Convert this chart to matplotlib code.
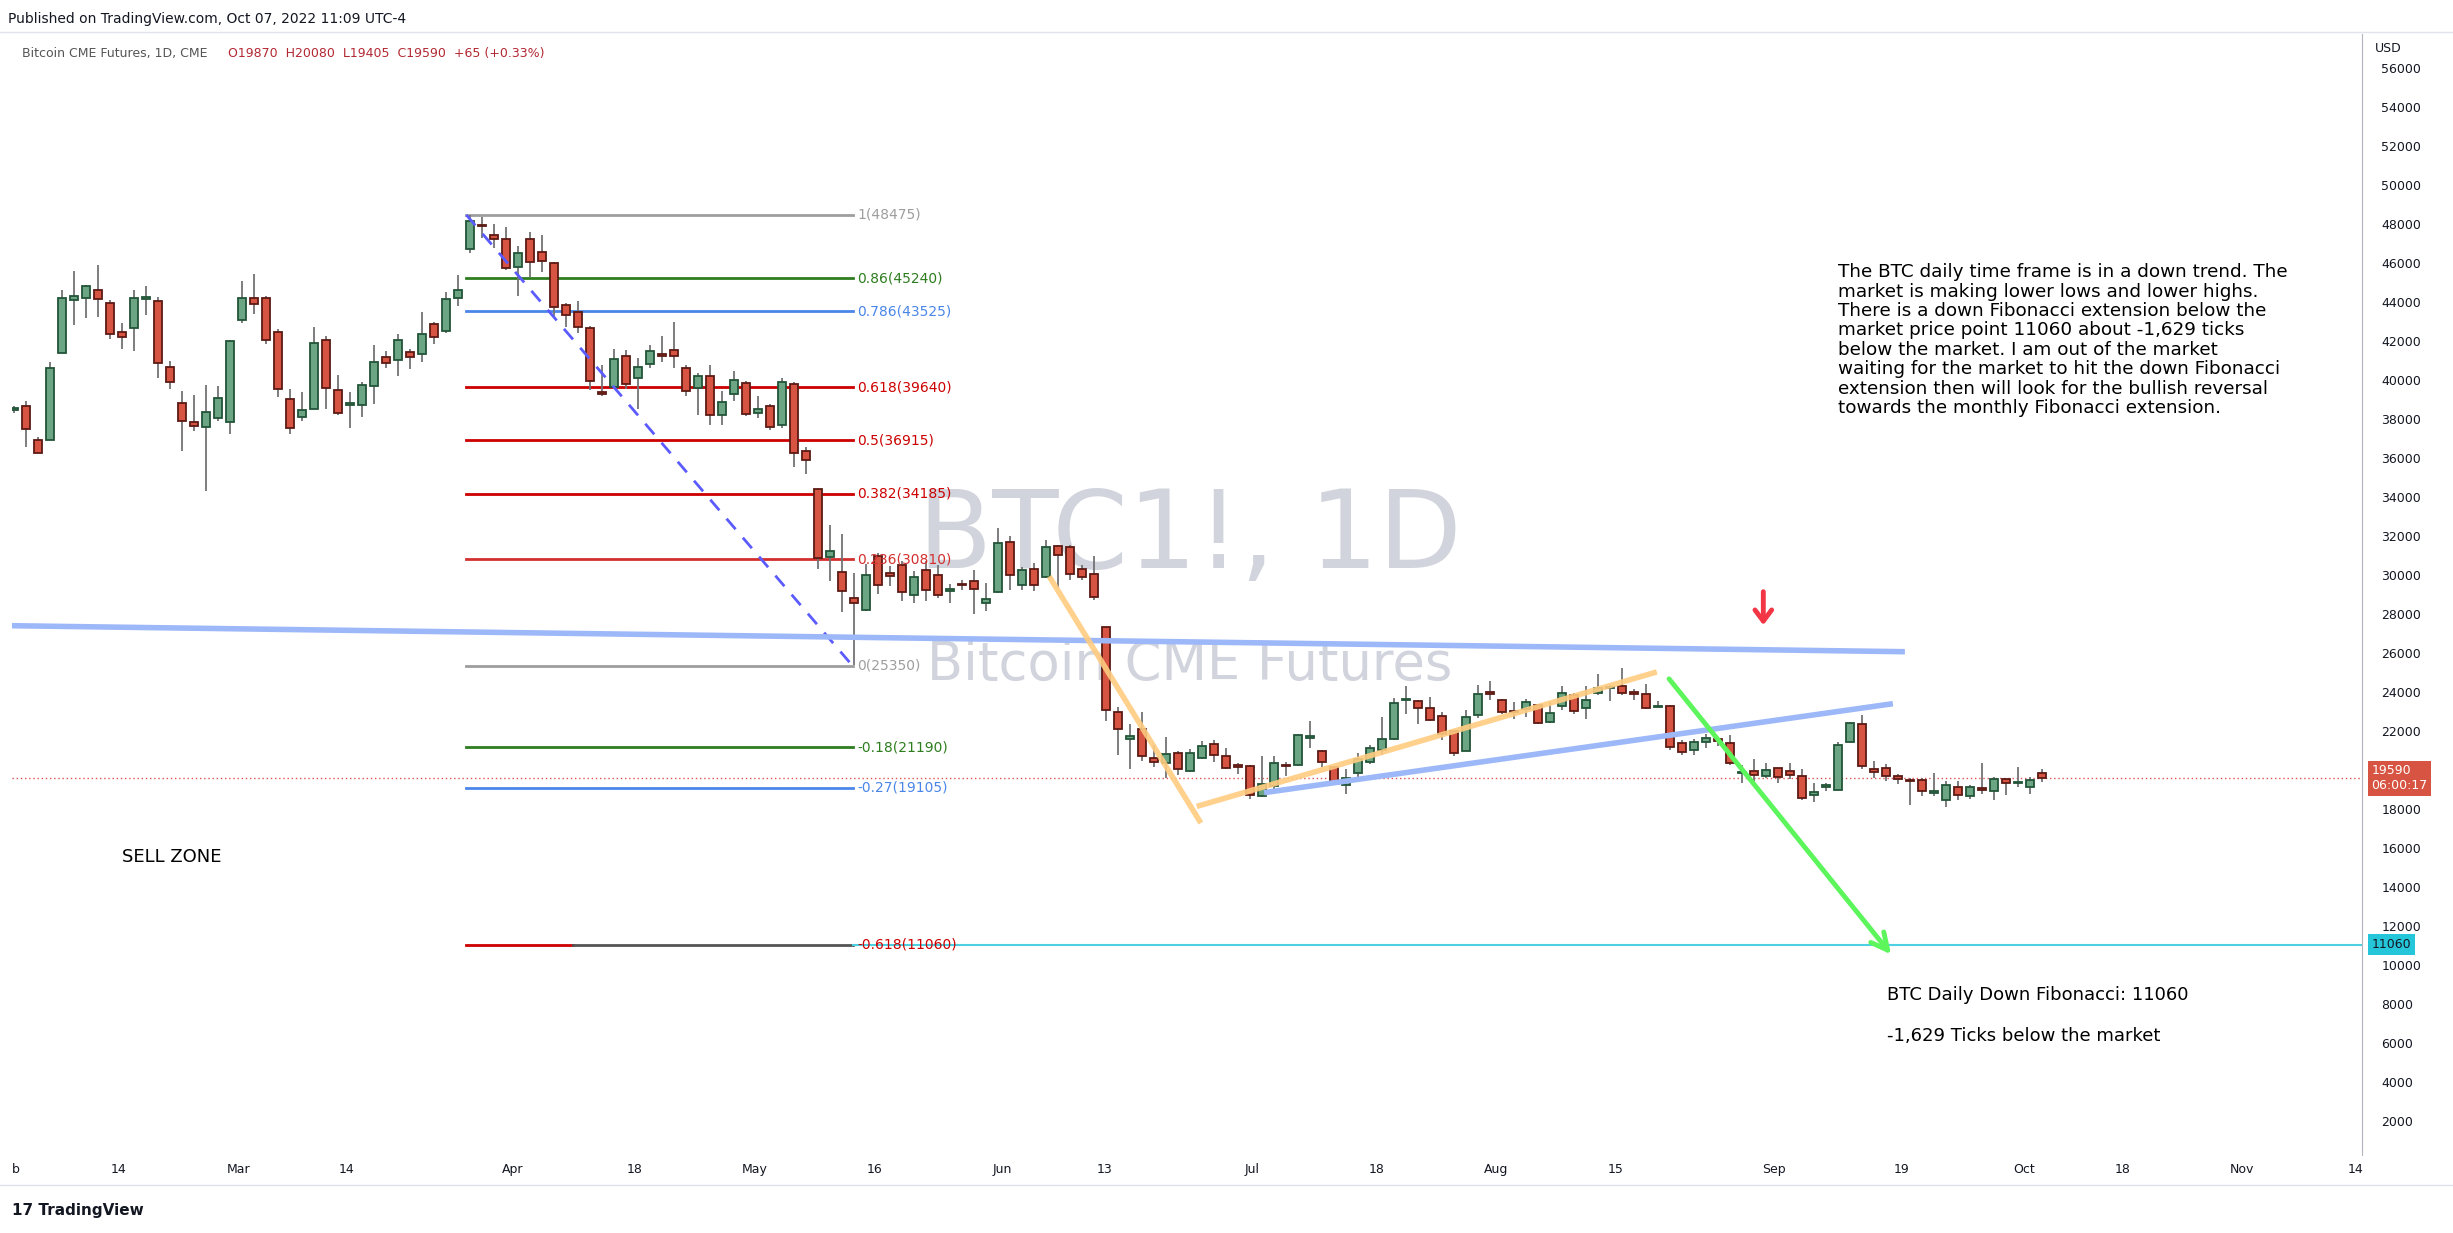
import matplotlib
matplotlib.use("Agg")
import matplotlib.pyplot as plt
import matplotlib.transforms as mtransforms
import numpy as np

# ---------------- data ----------------
opens = [38480,38654,36930,36930,41387,44103,44205,44615,43949,42463,42668,44188,44051,40670,38825,37852,37579,38057,37852,43078,
         44205,44205,42463,39030,38120,38518,42053,39491,38722,38722,39696,41182,41029,41438,41336,42873,42514,44205,46716,47928,
         47433,47228,45828,47228,46562,45998,43846,43522,42668,39405,39645,41233,40106,40841,41353,41541,40618,39594,40208,38193,
         39286,39850,38313,38654,37697,39799,36348,34418,30933,30165,28833,28235,30968,30114,30541,28994,30251,30028,29208,29516,
         29687,28577,29140,31685,29482,30319,29892,31480,31446,30336,30063,27344,22989,21605,22118,20649,20359,20888,19949,20632,
         21349,20734,20273,20222,18685,19180,20273,20290,21639,20990,20171,19231,19863,20427,21042,21605,23604,23553,23194,22784,
         22032,20990,22835,23962,23604,23040,23125,23347,22476,23296,23860,23194,23962,24201,24304,24013,23911,23228,23296,21399,
         21040,21450,21604,21399,19875,19964,19708,20118,19964,19708,18735,19145,18991,21450,22373,20067,20118,19708,19486,19503,
         18820,18478,19145,18683,19043,18940,19555,19350,19145,19862]
highs = [38700,38910,37100,40926,44632,45606,44888,45913,44120,42941,44632,44837,44274,40994,39457,39252,39764,39713,42070,45094,
         45452,44325,42634,39560,39406,42736,42241,40277,39372,39918,41780,41507,42378,41610,43505,42993,44530,45401,48475,48390,
         48014,47843,46887,47587,47450,46084,43949,44069,42788,40789,41609,41541,41131,41814,42292,42975,40789,40362,40772,39423,
         40447,39935,39201,38791,40106,39884,36570,34418,32590,32129,30114,30592,31139,30455,30712,30233,30712,30541,29567,29772,
         30285,29602,32420,31992,30421,30626,31821,31565,31565,30541,30968,27344,23245,22391,22972,21315,21725,20973,21093,21486,
         21537,21144,20376,20290,20751,20717,20444,21879,22545,21059,20239,20068,20888,21315,22750,23706,24304,23620,23775,22989,
         22084,23108,24389,24594,23672,23501,23672,23399,23501,24304,23962,24304,24953,24389,25260,24184,24440,23535,23364,21570,
         21621,21877,21690,21826,20289,20596,20392,20118,20392,20084,19350,19350,21450,22492,22834,20494,20340,19811,19623,19589,
         19879,19469,19469,19247,20392,19674,19555,20186,19674,20084]
lows = [38300,36553,36263,36930,41387,42805,43215,43266,42088,41575,41497,43368,40089,39525,36348,37374,34299,37886,37220,42941,
        43420,41882,39115,37220,37886,38518,38535,38228,37527,38091,38791,40601,40191,40550,40909,41831,42446,43830,46545,47279,
        46767,45657,44325,45281,45571,43180,42753,42446,39474,39201,39559,39559,38534,40618,40909,40618,39167,38193,37681,37681,
        38910,38142,38057,37424,37544,35546,35187,30319,29687,28116,25400,28150,29055,29430,28662,28577,28662,28833,28577,29260,
        28013,28150,29089,29260,29260,29174,29858,29345,29772,29772,28747,22511,20768,20068,20461,20153,19607,19744,19914,20597,
        20427,20085,19795,18531,18617,18975,19727,20239,21161,20171,19231,18804,19607,20341,20768,21571,22904,22357,22545,21571,
        20717,20990,22664,23621,22886,22647,22716,22391,22442,23074,22886,22613,23843,23570,23877,23621,23142,23228,21059,20801,
        20767,21143,21228,20289,19350,19350,19623,19350,19555,18461,18359,18922,18991,21450,20050,19589,19435,19281,18205,18666,
        18666,18102,18461,18547,18769,18461,18718,19128,18769,19384]
closes = [38560,37493,36263,40618,44205,44307,44820,44154,42361,42207,44205,44200,40875,39901,37903,37647,38364,39081,42002,44205,
          43898,42053,39543,37544,38466,41900,39594,38313,38825,39747,40926,40875,42053,41182,42361,42207,44154,44615,48151,47900,
          47228,45742,46511,46050,46101,43744,43368,42719,39935,39286,41080,39799,40670,41473,41233,41216,39440,40225,38193,38876,
          40003,38261,38534,37595,39901,36263,35904,30882,31224,29174,28577,29994,29499,29943,29140,29909,29260,29004,29311,29500,
          29294,28782,31651,29994,30285,29482,31446,31053,30063,29909,28884,23074,22118,21758,20734,20427,20836,20068,20888,21247,
          20786,20119,20171,18736,19300,20376,20205,21810,21759,20410,19300,19607,20580,21144,21605,23450,23638,23194,22579,21861,
          20888,22733,23911,23928,22989,22989,23501,22425,22938,23962,23040,23604,24218,24235,23962,23911,23177,23279,21195,20938,
          21467,21655,21484,20374,19925,19759,20016,19657,19759,18581,18888,19247,21297,22424,20220,19913,19708,19555,19452,18940,
          18940,19247,18735,19145,19009,19555,19350,19384,19503,19590]

tick_pos = [0.17, 8.75, 18.7, 27.75, 41.6, 51.7, 61.7, 71.75, 82.4, 90.9, 103.2, 113.6, 123.5, 133.5, 146.7, 157.3, 167.5, 175.75, 185.7, 195.2]
tick_labels = ["b", "14", "Mar", "14", "Apr", "18", "May", "16", "Jun", "13", "Jul", "18", "Aug", "15", "Sep", "19", "Oct", "18", "Nov", "14"]

fib_levels = [48475, 45240, 43525, 39640, 36915, 34185, 30810, 25350, 21190, 19105, 11060]
fib_names = ["1", "0.86", "0.786", "0.618", "0.5", "0.382", "0.236", "0", "-0.18", "-0.27", "-0.618"]
fib_colors = ["#9e9e9e", "#2e7d1f", "#4a86e8", "#cc0000", "#cc0000", "#cc0000", "#d32f2f", "#9e9e9e", "#2e7d1f", "#4a86e8", "#cc0000"]

price_ticks = list(range(2000, 56001, 2000))
last_price = 19590
target_price = 11060

# ---------------- figure ----------------
W, H = 2453, 1233
fig = plt.figure(figsize=(W / 100, H / 100), dpi=100)
L, R, T, B = 12, 2362, 34, 1155
ax = fig.add_axes([L / W, 1 - B / H, (R - L) / W, (B - T) / H])
ax.set_xlim(-0.17, 195.7)
ax.set_ylim(274, 57751)

n = len(closes)
x = np.arange(n)
o = np.array(opens); c = np.array(closes); h = np.array(highs); l = np.array(lows)
up = c >= o
ax.vlines(x, l, h, color="#737375", lw=1.3, zorder=3)
body_bot = np.minimum(o, c)
body_h = np.maximum(np.abs(c - o), 60)
ax.bar(x[up], body_h[up], bottom=body_bot[up], width=0.65, color="#6ba583", edgecolor="#225437", lw=1.3, zorder=4)
ax.bar(x[~up], body_h[~up], bottom=body_bot[~up], width=0.65, color="#d75442", edgecolor="#5b1a13", lw=1.3, zorder=4)

# watermark
ax.text(98, 31900, "BTC1!, 1D", fontsize=78, color="#d1d4dc", ha="center", va="center", zorder=1)
ax.text(98, 25400, "Bitcoin CME Futures", fontsize=38, color="#d1d4dc", ha="center", va="center", zorder=1)

# fibonacci
fx0, fx1 = 37.7, 69.9
for lev, nm, col in zip(fib_levels, fib_names, fib_colors):
    if lev == target_price:
        ax.plot([fx0, 46.6], [lev, lev], color=col, lw=2, zorder=2)
        ax.plot([46.6, fx1], [lev, lev], color="#555555", lw=2, zorder=2)
    else:
        ax.plot([fx0, fx1], [lev, lev], color=col, lw=2, zorder=2)
    ax.text(fx1 + 0.4, lev, f"{nm}({lev})", color=col, fontsize=10, va="center", ha="left", zorder=5)
ax.plot([fx0, fx1], [fib_levels[0], fib_levels[7]], color="#5b5bff", lw=2, ls=(0, (5, 4)), zorder=5)

# target line
ax.plot([fx1, 195.7], [target_price, target_price], color="#4dd0e1", lw=1.5, zorder=2)
# last price dotted line
ax.axhline(last_price, color="#e05050", lw=1, ls=(0, (1, 2)), zorder=2)

# trendlines
ax.plot([-0.17, 157.6], [27412, 26079], color="#9db8f8", lw=4, zorder=5, solid_capstyle="butt")
ax.plot([104.2, 156.6], [18853, 23414], color="#9db8f8", lw=4, zorder=5, solid_capstyle="butt")
ax.plot([86.4, 98.8], [29820, 17417], color="#ffcc80", lw=4, zorder=5, alpha=0.9)
ax.plot([98.8, 136.7], [18187, 25003], color="#ffcc80", lw=4, zorder=5, alpha=0.9)
ax.annotate("", xy=(156.6, 10448), xytext=(137.8, 24798),
            arrowprops=dict(arrowstyle="->,head_length=1.2,head_width=0.6", color="#5cf55c", lw=3.5), zorder=6)
ax.annotate("", xy=(145.8, 27300), xytext=(145.8, 29300),
            arrowprops=dict(arrowstyle="->,head_length=0.8,head_width=0.6", color="#f23645", lw=3.5), zorder=6)

# texts
para = ("The BTC daily time frame is in a down trend. The\n"
        "market is making lower lows and lower highs.\n"
        "There is a down Fibonacci extension below the\n"
        "market price point 11060 about -1,629 ticks\n"
        "below the market. I am out of the market\n"
        "waiting for the market to hit the down Fibonacci\n"
        "extension then will look for the bullish reversal\n"
        "towards the monthly Fibonacci extension.")
ax.text(152.0, 46000, para, fontsize=13.2, color="#000000", va="top", ha="left", linespacing=1.1, zorder=6)
ax.text(9.0, 15573, "SELL ZONE", fontsize=13, color="#000000", va="center", ha="left")
ax.text(156.1, 8500, "BTC Daily Down Fibonacci: 11060", fontsize=13, color="#000000", va="center", ha="left")
ax.text(156.1, 6400, "-1,629 Ticks below the market", fontsize=13, color="#000000", va="center", ha="left")

# axes style
ax.yaxis.tick_right()
ax.set_yticks(price_ticks)
ax.set_yticklabels([str(v) for v in price_ticks])
ax.set_xticks(tick_pos)
ax.set_xticklabels(tick_labels)
ax.tick_params(axis="both", length=0, labelsize=9, colors="#131722", pad=6)
ax.tick_params(axis="y", pad=14)
for s in ["top", "left", "bottom"]:
    ax.spines[s].set_visible(False)
ax.spines["right"].set_color("#b2b5be")

blend = mtransforms.blended_transform_factory(ax.transAxes, ax.transData)
ax.text(1.004, last_price, "19590\n06:00:17", transform=blend, fontsize=9, color="white", va="center", ha="left",
        bbox=dict(boxstyle="square,pad=0.3", fc="#d75442", ec="none"), zorder=10)
ax.text(1.004, target_price, "11060", transform=blend, fontsize=9, color="#131722", va="center", ha="left",
        bbox=dict(boxstyle="square,pad=0.3", fc="#26c6da", ec="none"), zorder=10)

# frame lines
fig.add_artist(plt.Line2D([0, 1], [1 - 32 / H, 1 - 32 / H], color="#e0e3eb", lw=1))
fig.add_artist(plt.Line2D([0, 1], [1 - B / H - 30 / H, 1 - B / H - 30 / H], color="#e0e3eb", lw=1))

fig.text(8 / W, 1 - 19 / H, "Published on TradingView.com, Oct 07, 2022 11:09 UTC-4", fontsize=10, color="#131722", va="center")
fig.text(22 / W, 1 - 53 / H, "Bitcoin CME Futures, 1D, CME", fontsize=9, color="#555555", va="center")
fig.text(228 / W, 1 - 53 / H, "O19870  H20080  L19405  C19590  +65 (+0.33%)", fontsize=9, color="#b22833", va="center")
fig.text(2375 / W, 1 - 48 / H, "USD", fontsize=9, color="#131722", va="center")
fig.text(12 / W, 1 - 1211 / H, "17 TradingView", fontsize=11, color="#131722", va="center", weight="bold")

fig.savefig("out.png", dpi=100, facecolor="white")
